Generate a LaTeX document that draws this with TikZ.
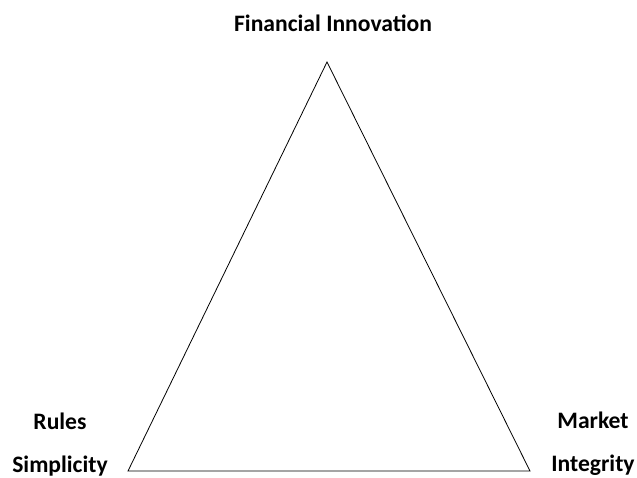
\documentclass[tikz,border=0pt]{standalone}
\usepackage{fontspec}
\setmainfont{Carlito}
\begin{document}
\begin{tikzpicture}[x=1pt,y=-1pt]

\tikzset{
corner label/.style={font={\fontsize{23.6pt}{43pt}\selectfont\bfseries},align=center,anchor=base,inner sep=0pt},
side/.style={draw=black,line width=0.8pt,line join=miter}
}
\useasboundingbox (0,0) rectangle (637,478);

% corners
\coordinate (top)   at (327,62);
\coordinate (left)  at (128,471);
\coordinate (right) at (530,471);

% labels
\node[corner label] (innovation) at (333,32)  {Financial Innovation};
\node[corner label] (simplicity) at (60,472)  {Rules\\Simplicity};
\node[corner label] (integrity)  at (593,471) {Market\\Integrity};

%sides
\draw[side] (top) -- (left) -- (right) -- cycle;

\end{tikzpicture}
\end{document}
